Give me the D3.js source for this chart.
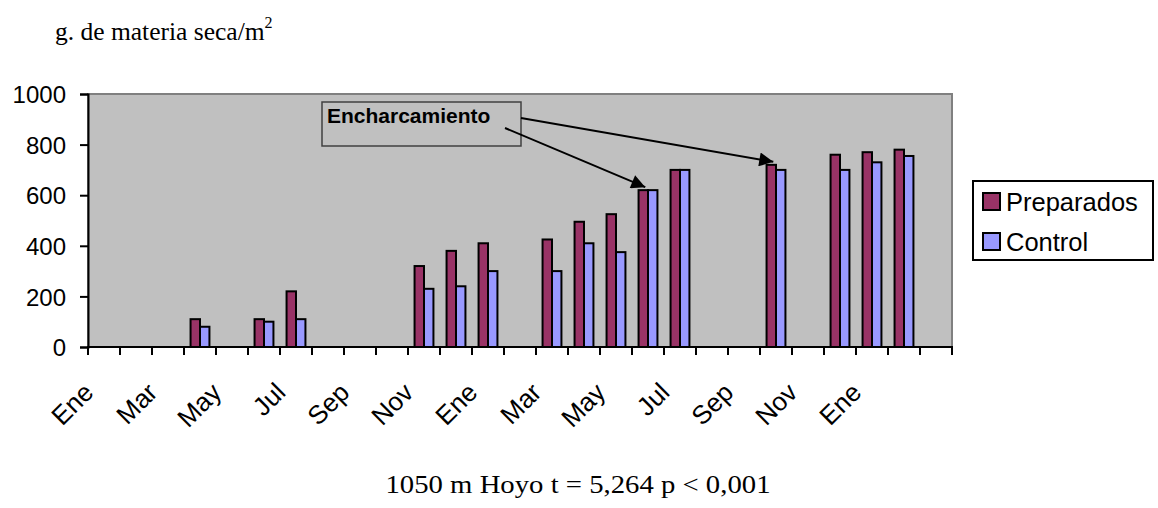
<!DOCTYPE html>
<html>
<head>
<meta charset="utf-8">
<script src="https://cdn.jsdelivr.net/npm/d3@7"></script>
<style>
  html, body { margin: 0; padding: 0; background: #fff; }
  svg { display: block; }
  .sans { font-family: Arial, "Liberation Sans", sans-serif; }
  .serif { font-family: "Times New Roman", "Liberation Serif", serif; }
</style>
</head>
<body>
<svg id="chart" width="1158" height="508"></svg>
<script>
// Monthly categories: Jan of year 1 through Mar of year 3
const months = ["Ene","Feb","Mar","Abr","May","Jun","Jul","Ago","Sep","Oct","Nov","Dic",
                "Ene","Feb","Mar","Abr","May","Jun","Jul","Ago","Sep","Oct","Nov","Dic",
                "Ene","Feb","Mar"];
// Dry matter (g/m2); null = no sample that month
const preparados = [null,null,null,110,null,110,220,null,null,null,320,380,
                    410,null,425,495,525,620,700,null,null,720,null,760,
                    770,780,null];
const control    = [null,null,null,80,null,100,110,null,null,null,230,240,
                    300,null,300,410,375,620,700,null,null,700,null,700,
                    730,755,null];
const seriesNames = ["Preparados","Control"];
const seriesColors = ["#993366","#9999FF"];
const yTicks = [0,200,400,600,800,1000];
const annotationText = "Encharcamiento";
const annotationTargets = [17, 21]; // months pointed at by the arrows
const titleText = "g. de materia seca/m";
const captionText = "1050 m Hoyo t = 5,264 p < 0,001";

const svg = d3.select("#chart");
const plot = {left: 88, right: 952, top: 94, bottom: 347};

const x = d3.scaleBand()
  .domain(d3.range(months.length))
  .range([plot.left, plot.right])
  .paddingInner(0).paddingOuter(0);
const y = d3.scaleLinear().domain([0, 1000]).range([plot.bottom, plot.top]);

const barW = x.bandwidth() * 0.295;

// plot background and frame
svg.append("rect")
  .attr("x", plot.left).attr("y", plot.top)
  .attr("width", plot.right - plot.left).attr("height", plot.bottom - plot.top)
  .attr("fill", "#C0C0C0").attr("stroke", "#808080").attr("stroke-width", 2);

// bars
const series = [preparados, control];
series.forEach((vals, s) => {
  svg.append("g").selectAll("rect")
    .data(vals.map((v, i) => ({i, v})).filter(d => d.v != null))
    .join("rect")
    .attr("x", d => x(d.i) + x.bandwidth() / 2 - barW + s * barW)
    .attr("y", d => y(d.v))
    .attr("width", barW)
    .attr("height", d => y(0) - y(d.v))
    .attr("fill", seriesColors[s])
    .attr("stroke", "#000").attr("stroke-width", 2);
});

// y axis
const yAxis = svg.append("g")
  .attr("transform", `translate(${plot.left},0)`)
  .call(d3.axisLeft(y).tickValues(yTicks).tickSize(8).tickPadding(14).tickFormat(d3.format("d")));
yAxis.select(".domain").attr("stroke", "#000").attr("stroke-width", 2);
yAxis.selectAll(".tick line").attr("stroke", "#000").attr("stroke-width", 2);
yAxis.selectAll("text").attr("class", "sans").attr("font-size", 24).attr("fill", "#000").attr("dy", "0.36em");

// x axis: ticks at category boundaries
const xAxis = svg.append("g").attr("transform", `translate(0,${plot.bottom})`);
xAxis.append("line")
  .attr("x1", plot.left).attr("x2", plot.right)
  .attr("stroke", "#000").attr("stroke-width", 2);
xAxis.selectAll("line.tk")
  .data(d3.range(months.length + 1))
  .join("line").attr("class", "tk")
  .attr("x1", i => i < months.length ? x(i) : plot.right)
  .attr("x2", i => i < months.length ? x(i) : plot.right)
  .attr("y1", -1).attr("y2", 8)
  .attr("stroke", "#000").attr("stroke-width", 2);
xAxis.selectAll("text")
  .data(d3.range(months.length).filter(i => i % 2 === 0 && i < 25))
  .join("text")
  .attr("class", "sans")
  .attr("font-size", 26)
  .attr("text-anchor", "end")
  .attr("transform", i => `translate(${x(i) + x.bandwidth() / 2 - 9},47) rotate(-45)`)
  .text(i => months[i]);

// annotation box with arrows
const defs = svg.append("defs");
defs.append("marker")
  .attr("id", "arrowhead")
  .attr("viewBox", "0 0 10 10").attr("refX", 10).attr("refY", 5)
  .attr("markerWidth", 9).attr("markerHeight", 7).attr("markerUnits", "strokeWidth")
  .attr("orient", "auto")
  .append("path").attr("d", "M0,0 L10,5 L0,10 z").attr("fill", "#000");

const boxX = 322, boxY = 102, boxW = 199, boxH = 44;
svg.append("rect")
  .attr("x", boxX).attr("y", boxY).attr("width", boxW).attr("height", boxH)
  .attr("fill", "#C0C0C0").attr("stroke", "#404040").attr("stroke-width", 1.5);
svg.append("text")
  .attr("class", "sans")
  .attr("x", boxX + 5).attr("y", boxY + 21)
  .attr("font-size", 21).attr("font-weight", "bold")
  .text(annotationText);

const arrowStarts = [[505, 128], [521, 118]];
annotationTargets.forEach((m, k) => {
  const v = preparados[m];
  svg.append("line")
    .attr("x1", arrowStarts[k][0]).attr("y1", arrowStarts[k][1])
    .attr("x2", x(m) + x.bandwidth() / 2 - barW / 2 + 2)
    .attr("y2", y(v) - 3)
    .attr("stroke", "#000").attr("stroke-width", 2)
    .attr("marker-end", "url(#arrowhead)");
});

// legend
const lg = svg.append("g").attr("transform", "translate(973,181)");
lg.append("rect").attr("width", 180).attr("height", 79)
  .attr("fill", "#fff").attr("stroke", "#000").attr("stroke-width", 2);
seriesNames.forEach((name, s) => {
  const row = lg.append("g").attr("transform", `translate(0,${12 + s * 40})`);
  row.append("rect").attr("x", 10).attr("y", 0).attr("width", 17).attr("height", 17)
    .attr("fill", seriesColors[s]).attr("stroke", "#000").attr("stroke-width", 2);
  row.append("text").attr("class", "sans").attr("x", 33).attr("y", 18)
    .attr("font-size", 25.5).text(name);
});

// titles
const title = svg.append("text").attr("class", "serif")
  .attr("x", 55).attr("y", 40).attr("font-size", 25.5);
title.append("tspan").text(titleText);
title.append("tspan").attr("font-size", 16).attr("dy", -12).text("2");

svg.append("text").attr("class", "serif")
  .attr("x", 578).attr("y", 493).attr("text-anchor", "middle")
  .attr("font-size", 25)
  .attr("textLength", 385).attr("lengthAdjust", "spacingAndGlyphs")
  .text(captionText);
</script>
</body>
</html>
